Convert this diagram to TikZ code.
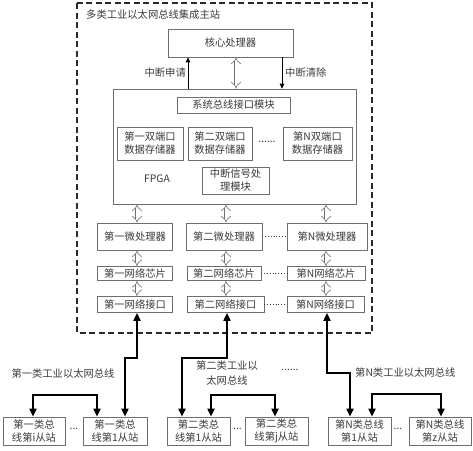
\documentclass[tikz,border=0pt]{standalone}
\usepackage{fontspec}
\setmainfont{Noto Sans CJK SC}
\usepackage{tikz}
\usetikzlibrary{arrows.meta,calc,positioning}
\definecolor{BoxGray}{HTML}{6E6E6E}
\definecolor{TxtGray}{HTML}{3A3A3A}
\definecolor{FrameGray}{HTML}{2A2A2A}

\begin{document}
\begin{tikzpicture}[x=1pt,y=-1pt,
      box/.style={draw=BoxGray,fill=white,line width=0.7pt,inner sep=0pt,align=center,text=TxtGray,font=\fontsize{10.3}{13}\selectfont},
      lbl/.style={text=TxtGray,inner sep=0pt,align=center,font=\fontsize{10.3}{15}\selectfont},
      hollow/.style={draw=BoxGray,line width=0.6pt,double=white,double distance=3pt,{Implies}-{Implies}},
      sig/.style={-{Triangle[length=5pt,width=4.5pt]},draw=black,line width=1pt},
      bus/.style={{Triangle[length=8pt,width=7pt]}-{Triangle[length=8pt,width=7pt]},draw=black,line width=1.8pt},
      link/.style={draw=TxtGray,line width=0.8pt,dotted}
    ]
      \useasboundingbox (0,0) rectangle (473,450);
      % master station frame
      \draw[FrameGray,line width=1.1pt,dash pattern=on 6pt off 3.5pt] (77,3) rectangle (372,333);
      \node[lbl,anchor=west] (title) at (86,15) {多类工业以太网总线集成主站};

      \node[box,minimum width=125pt,minimum height=28pt] (core) at (230.5,43) {核心处理器};
      \node[box,minimum width=243pt,minimum height=115pt] (fpga) at (234.5,146.5) {};
      \node[box,minimum width=113pt,minimum height=16pt] (sysbus) at (233.5,105) {系统总线接口模块};
      \node[box,minimum width=66pt,minimum height=33pt] (dp1) at (150,143.5) {第一双端口\\数据存储器};
      \node[box,minimum width=64pt,minimum height=33pt] (dp2) at (220,143.5) {第二双端口\\数据存储器};
      \node[box,minimum width=69pt,minimum height=33pt] (dpN) at (317.5,143.5) {第N双端口\\数据存储器};
      \node[lbl] (dpdots) at (267,142) {......};
      \node[lbl] (fpgatxt) at (157,179) {FPGA};
      \node[box,minimum width=67pt,minimum height=27pt] (irq) at (235.5,180.5) {中断信号处\\理模块};

      % interrupt lines
      \draw[sig] (fpga.north -| 188,0) -- (core.south -| 188,0);
      \draw[sig] (core.south -| 282,0) -- (fpga.north -| 282,0);
      \node[lbl,anchor=east] (req) at (186,73) {中断申请};
      \node[lbl,anchor=west] (clr) at (285,73) {中断清除};
      \draw[hollow] (core.south -| 236,0) -- (fpga.north -| 236,0);

      % channels
      \node[box,minimum width=75pt,minimum height=27pt] (mp1) at (135,236.5) {第一微处理器};
      \node[box,minimum width=76pt,minimum height=27pt] (mp2) at (224,236.5) {第二微处理器};
      \node[box,minimum width=80pt,minimum height=27pt] (mpN) at (327,236.5) {第N微处理器};
      \node[box,minimum width=75pt,minimum height=14pt] (chip1) at (135,273.5) {第一网络芯片};
      \node[box,minimum width=74pt,minimum height=14pt] (chip2) at (224,273.5) {第二网络芯片};
      \node[box,minimum width=78pt,minimum height=14pt] (chipN) at (326,273.5) {第N网络芯片};
      \node[box,minimum width=75pt,minimum height=16pt] (if1) at (135,304.5) {第一网络接口};
      \node[box,minimum width=77pt,minimum height=16pt] (if2) at (225.5,304.5) {第二网络接口};
      \node[box,minimum width=77pt,minimum height=16pt] (ifN) at (325.5,304.5) {第N网络接口};

      \draw[hollow] (fpga.south -| 137,0) -- (mp1.north -| 137,0);
      \draw[hollow] (fpga.south -| 226,0) -- (mp2.north -| 226,0);
      \draw[hollow] (fpga.south -| 326,0) -- (mpN.north -| 326,0);
      \draw[hollow] (mp1.south -| 137,0) -- (chip1.north -| 137,0);
      \draw[hollow] (mp2.south -| 226,0) -- (chip2.north -| 226,0);
      \draw[hollow] (mpN.south -| 326,0) -- (chipN.north -| 326,0);
      \draw[hollow] (chip1.south -| 137,0) -- (if1.north -| 137,0);
      \draw[hollow] (chip2.south -| 226,0) -- (if2.north -| 226,0);
      \draw[hollow] (chipN.south -| 326,0) -- (ifN.north -| 326,0);
      \draw[link] (mp2) -- (mpN);
      \draw[link] (chip2) -- (chipN);
      \draw[link] (if2) -- (ifN);

      % slave stations
      \node[box,minimum width=62pt,minimum height=28pt] (s1i) at (34,431) {第一类总\\线第i从站};
      \node[box,minimum width=64pt,minimum height=28pt] (s11) at (115,431) {第一类总\\线第1从站};
      \node[box,minimum width=63pt,minimum height=28pt] (s21) at (198.5,431) {第二类总\\线第1从站};
      \node[box,minimum width=63pt,minimum height=28pt] (s2j) at (276.5,431) {第二类总\\线第j从站};
      \node[box,minimum width=63pt,minimum height=28pt] (sN1) at (359.5,431) {第N类总线\\第1从站};
      \node[box,minimum width=62pt,minimum height=28pt] (sNz) at (440,431) {第N类总线\\第z从站};
      \node[lbl] (d1) at (74,429) {...};
      \node[lbl] (d2) at (237.5,429) {...};
      \node[lbl] (d3) at (398,429) {...};

      % field buses
      \draw[bus] (if1.south -| 137,0) -- (137,358) -| (s11.north -| 125,0);
      \draw[bus] (if2.south -| 227,0) -- (227,358) -| (s21.north -| 182,0);
      \draw[bus] (ifN.south -| 327,0) -- (327,373) -| (sN1.north -| 350,0);
      \draw[bus] (s1i.north -| 33,0) -- (33,395) -| (s11.north -| 97,0);
      \draw[bus] (s21.north -| 211,0) -- (211,395) -| (s2j.north -| 275,0);
      \draw[bus] (sN1.north -| 372,0) -- (372,394) -| (sNz.north -| 441,0);

      \node[lbl] (bus1) at (63,374) {第一类工业以太网总线};
      \node[lbl] (bus2) at (227,373) {第二类工业以\\太网总线};
      \node[lbl] (busdots) at (290,370) {......};
      \node[lbl,anchor=west] (busN) at (355,373) {第N类工业以太网总线};
    \end{tikzpicture}
\end{document}
